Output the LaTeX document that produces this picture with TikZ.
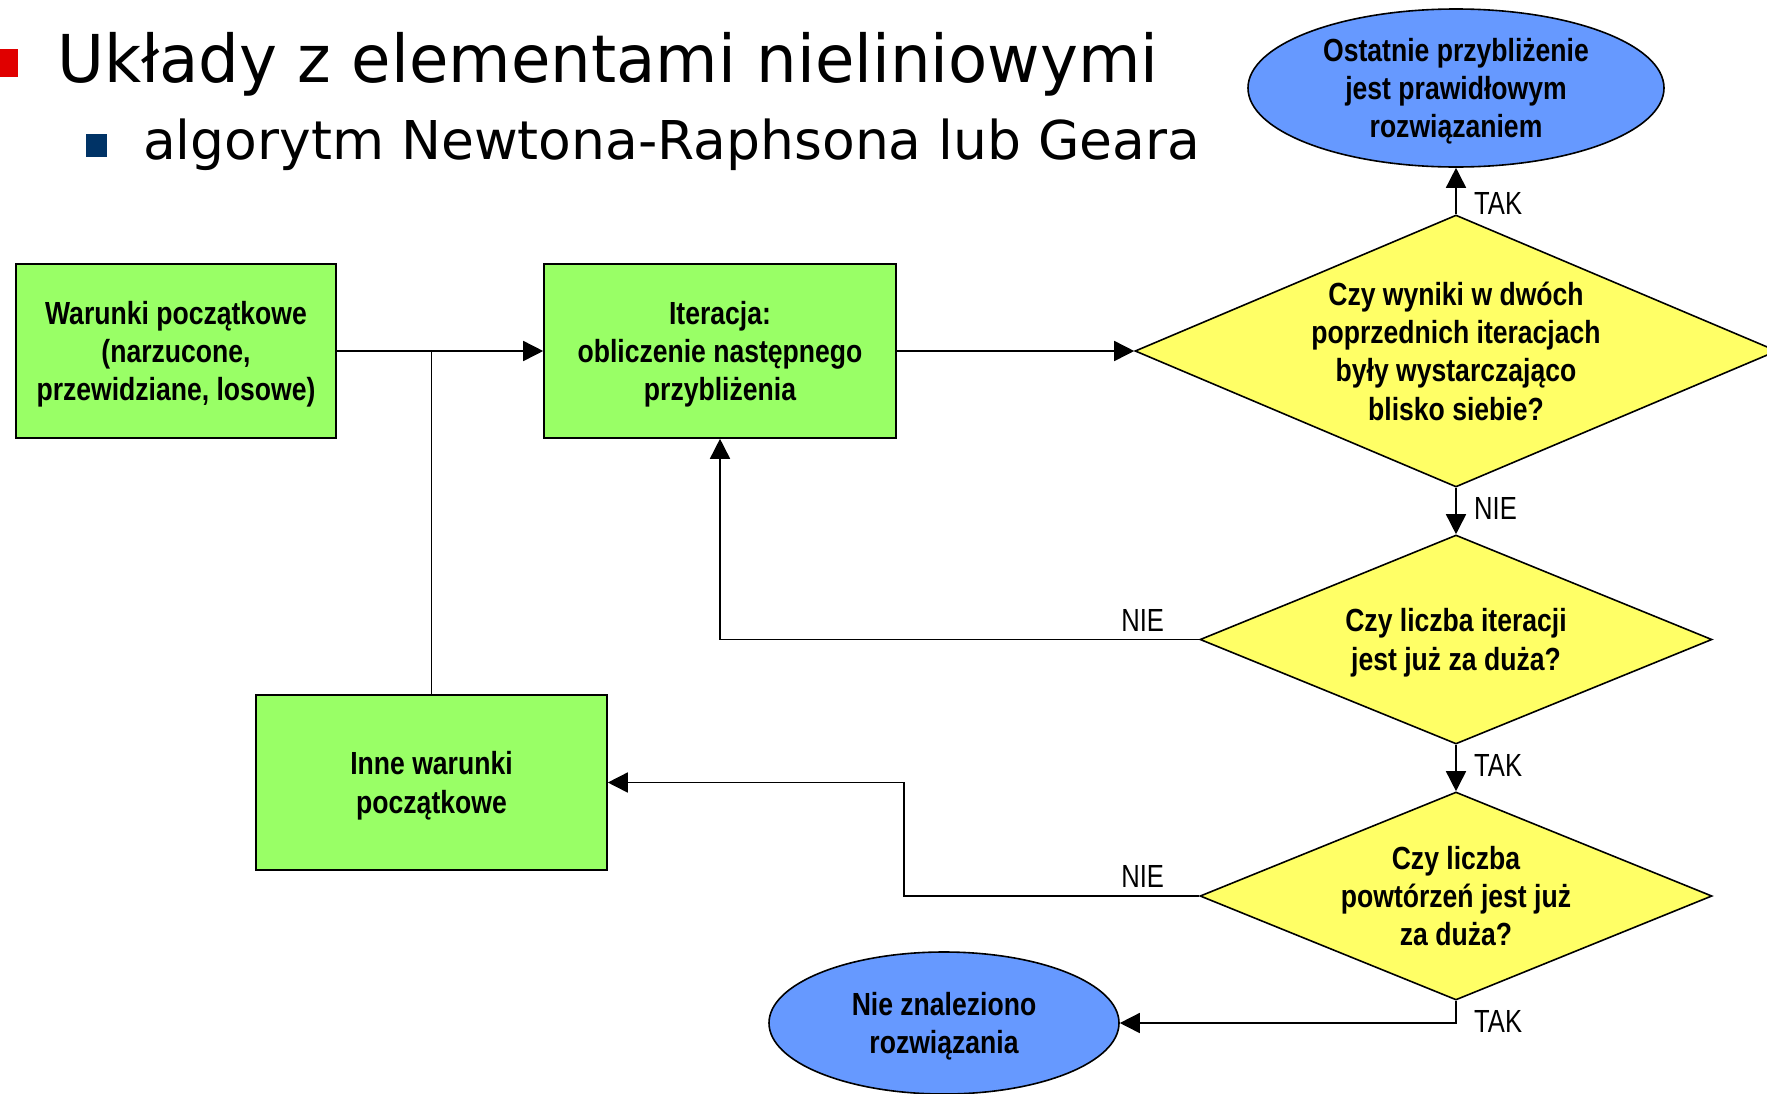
\documentclass[tikz,border=0pt]{standalone}
\usepackage{fontspec}
\usetikzlibrary{shapes.geometric,arrows.meta}
\newfontfamily\titlefont[FakeStretch=0.972]{DejaVu Sans}
\newfontfamily\subfont{DejaVu Sans}
\newfontfamily\chartfont[FakeStretch=0.83]{Liberation Sans}
\newfontfamily\lblfont[FakeStretch=0.8]{Liberation Sans}
\definecolor{boxgreen}{RGB}{153,255,102}
\definecolor{dyellow}{RGB}{255,255,102}
\definecolor{eblue}{RGB}{102,153,255}
\definecolor{bulred}{RGB}{224,0,0}
\definecolor{bulblue}{RGB}{0,51,102}
\begin{document}
\begin{tikzpicture}[x=1pt,y=-1pt,
  chart/.style={font=\chartfont\bfseries\fontsize{32}{38.3}\selectfont, align=center, draw=black, line width=1.6pt, inner sep=0pt, text depth=0pt},
  boxst/.style={chart, rectangle, fill=boxgreen},
  decst/.style={chart, diamond, fill=dyellow},
  endst/.style={chart, ellipse, fill=eblue},
  lbl/.style={font=\lblfont\fontsize{32}{36}\selectfont, inner sep=0pt},
  wire/.style={line width=1.6pt, draw=black},
  conn/.style={wire, -{Triangle[length=20pt,width=20pt]}}]
\useasboundingbox (0,0) rectangle (1767,1093);
\fill[white] (0,0) rectangle (1767,1093);
% title
\fill[bulred] (-10,49) rectangle (18,77);
\fill[bulblue] (86,134) rectangle (107,157);
\node[anchor=base west, inner sep=0pt, font=\titlefont\fontsize{66}{70}\selectfont] (title) at (57,82) {Układy z elementami nieliniowymi};
\node[anchor=base west, inner sep=0pt, font=\subfont\fontsize{53.5}{60}\selectfont] (sub) at (143,159) {algorytm Newtona-Raphsona lub Geara};
% nodes
\node[boxst, minimum width=320pt, minimum height=174pt] (b1) at (176,351) {Warunki początkowe\\(narzucone,\\przewidziane, losowe)};
\node[boxst, minimum width=352pt, minimum height=174pt] (b2) at (720,351) {Iteracja:\\obliczenie następnego\\przybliżenia};
\node[boxst, minimum width=351pt, minimum height=175pt] (b3) at (431.5,782.5) {Inne warunki\\początkowe};
\node[decst, minimum width=642pt, minimum height=272pt, aspect=2.36] (d1) at (1456,351) {Czy wyniki w dwóch\\poprzednich iteracjach\\były wystarczająco\\blisko siebie?};
\node[decst, minimum width=512pt, minimum height=209pt, aspect=2.45] (d2) at (1456,639.5) {Czy liczba iteracji\\jest już za duża?};
\node[decst, minimum width=512pt, minimum height=208pt, aspect=2.45] (d3) at (1456,896) {Czy liczba\\powtórzeń jest już\\za duża?};
\node[endst, minimum width=416pt, minimum height=158pt] (e1) at (1456,88) {Ostatnie przybliżenie\\jest prawidłowym\\rozwiązaniem};
\node[endst, minimum width=350pt, minimum height=142pt] (e2) at (944,1023) {Nie znaleziono\\rozwiązania};
% connectors
\coordinate (bend3) at (904,896);
\draw[conn] (b1.east) -- (b2.west);
\draw[wire] (b3.north) -- (b3.north |- b1.east);
\draw[conn] (b2.east) -- (d1.west);
\draw[conn] (d1.north) -- (e1.south);
\draw[conn] (d1.south) -- (d2.north);
\draw[conn] (d2.west) -| (b2.south);
\draw[conn] (d2.south) -- (d3.north);
\draw[conn] (d3.west) -- (bend3) |- (b3.east);
\draw[conn] (d3.south) |- (e2.east);
% labels
\node[lbl, anchor=base west] (t1) at ([xshift=18pt]d1.north) {TAK};
\node[lbl, anchor=base west] (n1) at ([xshift=18pt,yshift=-32pt]d1.south) {NIE};
\node[lbl, anchor=base east] (n2) at ([xshift=-35pt,yshift=8.5pt]d2.west) {NIE};
\node[lbl, anchor=base west] (t2) at ([xshift=18pt,yshift=-32pt]d2.south) {TAK};
\node[lbl, anchor=base east] (n3) at ([xshift=-35pt,yshift=9pt]d3.west) {NIE};
\node[lbl, anchor=base west] (t3) at ([xshift=18pt,yshift=-32pt]d3.south) {TAK};
\end{tikzpicture}
\end{document}
